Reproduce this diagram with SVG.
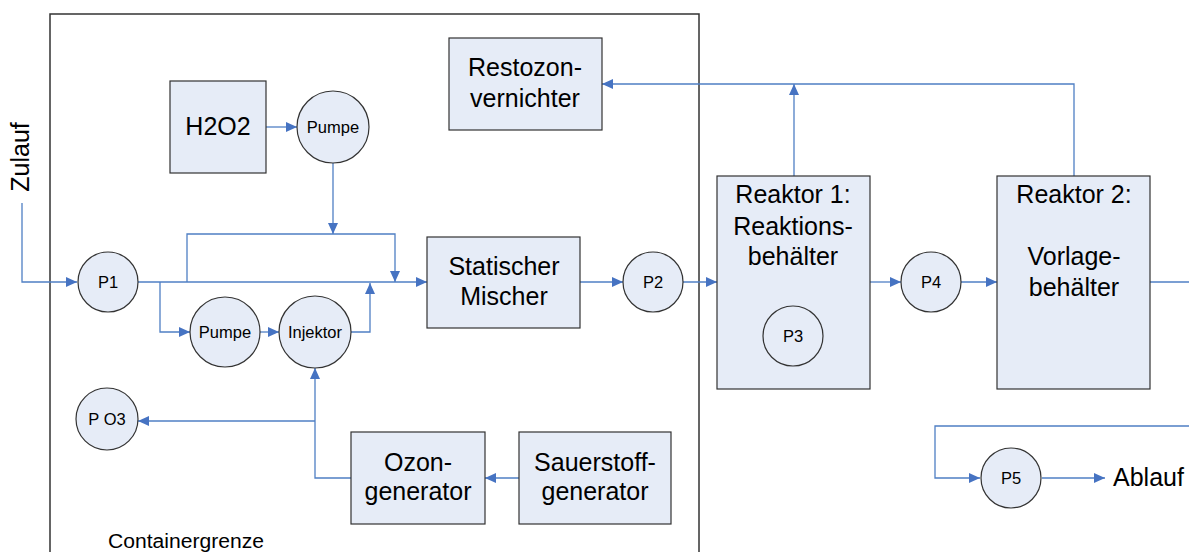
<svg xmlns="http://www.w3.org/2000/svg" width="1189" height="552" viewBox="0 0 1189 552">
<style>
.box{fill:#E6ECF7;stroke:#333;stroke-width:1.2}
.t{font-family:"Liberation Sans",Arial,sans-serif;font-size:25px;fill:#000;text-anchor:middle}
.s{font-family:"Liberation Sans",Arial,sans-serif;font-size:16.5px;fill:#000;text-anchor:middle}
.c{fill:none;stroke:#4F7FC4;stroke-width:1.3}
</style>
<defs>
<marker id="a" markerWidth="12" markerHeight="11" refX="11" refY="5.5" orient="auto" markerUnits="userSpaceOnUse">
<path d="M0,0.5 L11,5.5 L0,10.5 Z" fill="#4673C2"/>
</marker>
</defs>
<rect width="1189" height="552" fill="#fff"/>
<g id="container">
<rect x="50" y="14" width="649" height="560" fill="none" stroke="#333" stroke-width="1.5"/>
<text x="186" y="548" font-family="Liberation Sans, Arial, sans-serif" font-size="20" text-anchor="middle" textLength="156" lengthAdjust="spacingAndGlyphs">Containergrenze</text>
</g>
<g id="connectors" class="c">
<polyline class="c" points="22,203 22,282 77,282" marker-end="url(#a)"/>
<line class="c" x1="138" y1="282" x2="427" y2="282" marker-end="url(#a)"/>
<polyline class="c" points="187,282 187,234 395,234 395,282" marker-end="url(#a)"/>
<line class="c" x1="333" y1="163" x2="333" y2="234" marker-end="url(#a)"/>
<line class="c" x1="266" y1="127" x2="297" y2="127" marker-end="url(#a)"/>
<polyline class="c" points="160,282 160,332 190,332" marker-end="url(#a)"/>
<line class="c" x1="260" y1="332" x2="279" y2="332" marker-end="url(#a)"/>
<polyline class="c" points="351,332 370,332 370,283" marker-end="url(#a)"/>
<line class="c" x1="580" y1="282" x2="623" y2="282" marker-end="url(#a)"/>
<line class="c" x1="683" y1="282" x2="717" y2="282" marker-end="url(#a)"/>
<line class="c" x1="870" y1="282" x2="901" y2="282" marker-end="url(#a)"/>
<line class="c" x1="961" y1="282" x2="997" y2="282" marker-end="url(#a)"/>
<line class="c" x1="1150" y1="282" x2="1189" y2="282"/>
<line class="c" x1="794" y1="176" x2="794" y2="84" marker-end="url(#a)"/>
<polyline class="c" points="1074,176 1074,84 602,84" marker-end="url(#a)"/>
<polyline class="c" points="1189,426 935,426 935,478 980,478" marker-end="url(#a)"/>
<line class="c" x1="1042" y1="478" x2="1105" y2="478" marker-end="url(#a)"/>
<line class="c" x1="519" y1="478" x2="485" y2="478" marker-end="url(#a)"/>
<polyline class="c" points="351,478 315,478 315,368" marker-end="url(#a)"/>
<line class="c" x1="315" y1="421" x2="138" y2="421" marker-end="url(#a)"/>
</g>
<g id="zulauf"><text class="t" transform="translate(29,157) rotate(-90)">Zulauf</text></g>
<g id="ablauf"><text class="t" x="1113" y="486" style="text-anchor:start">Ablauf</text></g>
<g id="h2o2"><rect class="box" x="170" y="81" width="96" height="92"/><text class="t" x="218" y="135">H2O2</text></g>
<g id="pumpe1"><circle class="box" cx="333" cy="127" r="36"/><text class="s" x="333" y="133">Pumpe</text></g>
<g id="p1"><circle class="box" cx="108" cy="282" r="30"/><text class="s" x="108" y="288">P1</text></g>
<g id="pumpe2"><circle class="box" cx="225" cy="332" r="35"/><text class="s" x="225" y="338">Pumpe</text></g>
<g id="injektor"><circle class="box" cx="315" cy="332" r="36"/><text class="s" x="315" y="338">Injektor</text></g>
<g id="po3"><circle class="box" cx="107" cy="419" r="31"/><text class="s" x="107" y="425">P O3</text></g>
<g id="restozon"><rect class="box" x="449" y="38" width="153" height="92"/><text class="t" x="525" y="76">Restozon-</text><text class="t" x="525" y="107">vernichter</text></g>
<g id="mischer"><rect class="box" x="427" y="237" width="153" height="91"/><text class="t" x="504" y="275">Statischer</text><text class="t" x="504" y="305">Mischer</text></g>
<g id="ozon"><rect class="box" x="351" y="432" width="134" height="92"/><text class="t" x="418" y="471">Ozon-</text><text class="t" x="418" y="500">generator</text></g>
<g id="sauerstoff"><rect class="box" x="519" y="432" width="152" height="92"/><text class="t" x="595" y="471">Sauerstoff-</text><text class="t" x="595" y="500">generator</text></g>
<g id="p2"><circle class="box" cx="653" cy="282" r="30"/><text class="s" x="653" y="288">P2</text></g>
<g id="reaktor1"><rect class="box" x="717" y="176" width="153" height="213"/><text class="t" x="793" y="203">Reaktor 1:</text><text class="t" x="793" y="235">Reaktions-</text><text class="t" x="793" y="265">behälter</text></g>
<g id="p3"><circle class="box" cx="793" cy="336" r="30"/><text class="s" x="793" y="342">P3</text></g>
<g id="p4"><circle class="box" cx="931" cy="282" r="30"/><text class="s" x="931" y="288">P4</text></g>
<g id="reaktor2"><rect class="box" x="997" y="176" width="153" height="213"/><text class="t" x="1074" y="203">Reaktor 2:</text><text class="t" x="1074" y="265">Vorlage-</text><text class="t" x="1074" y="296">behälter</text></g>
<g id="p5"><circle class="box" cx="1011" cy="478" r="30"/><text class="s" x="1011" y="484">P5</text></g>
</svg>
